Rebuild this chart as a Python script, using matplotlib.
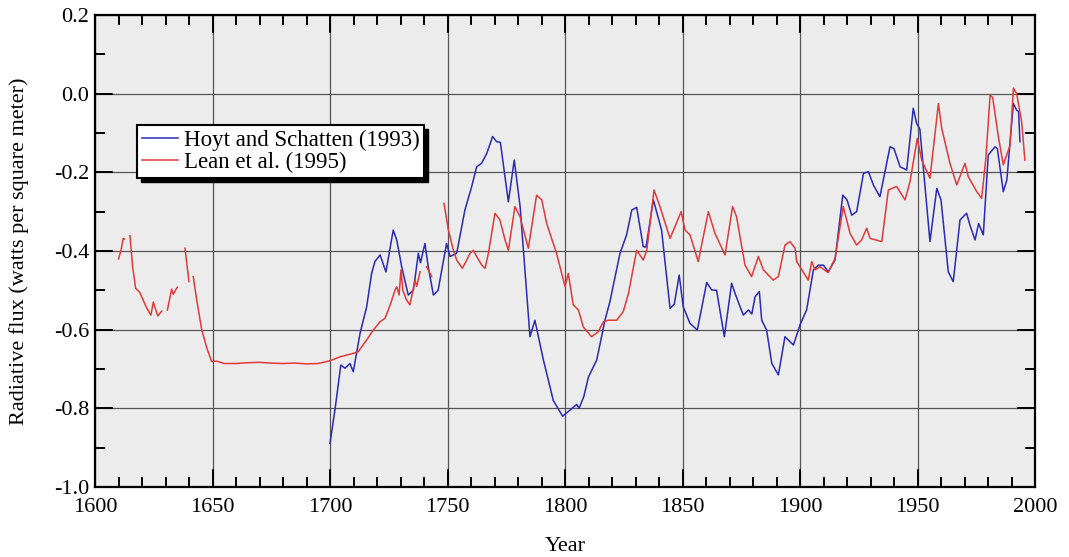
import numpy as np
import matplotlib
matplotlib.use("Agg")
import matplotlib.pyplot as plt
from matplotlib.ticker import MultipleLocator
from matplotlib.patches import Rectangle

nan = np.nan

lean_years = [1610, 1611, 1612, 1612.5, 1613.5, 1614.9, 1616, 1617.3, 1619, 1620.5, 1622, 1623.8,
              1624.8, 1626.7, 1628.4, 1629.5, 1630.8, 1631.5, 1632.6, 1633.3, 1635, 1636.5,
              1638.3, 1640, 1641, 1641.8, 1643.3, 1645.4, 1647.5, 1649.6, 1651.8, 1655, 1660,
              1665, 1670, 1675, 1680, 1685, 1690, 1695, 1700, 1704.3, 1710, 1712, 1715.6,
              1718.4, 1721.3, 1723.4, 1724.8, 1726, 1727.7, 1728.4, 1729.4, 1730.2, 1731,
              1732.6, 1734, 1736.2, 1736.9, 1738.3, 1739.5, 1741.1, 1743.3, 1746,
              1748.5, 1750.4, 1752.5, 1753.9, 1756.3, 1758.2, 1759.6, 1761, 1762.4, 1764.6,
              1766, 1767.4, 1770.2, 1772.3, 1774.5, 1775.9, 1778.7, 1780.9, 1781.6, 1784.4,
              1787.9, 1790.1, 1792.2, 1796.4, 1800, 1801.4, 1803.5, 1805.7, 1807.8, 1811.3,
              1814.2, 1816.3, 1818.4, 1822, 1824.8, 1827, 1830.5, 1833.3, 1834.8, 1837.9,
              1840.4, 1844.7, 1846.8, 1849.4, 1851.1, 1853.2, 1856.7, 1861, 1863.8, 1868.1,
              1871.3, 1873, 1876.6, 1879.4, 1882.3, 1884.4, 1888.6, 1890.8, 1893.6, 1895.7,
              1897.9, 1898.6, 1903.5, 1905, 1906.4, 1908.5, 1912, 1914.9, 1918.4, 1921.3,
              1924.1, 1926.2, 1928.4, 1929.8, 1934.8, 1937.6, 1941.1, 1944.7, 1946.8, 1949.9,
              1951.8, 1955.3, 1958.9, 1960.3, 1963.8, 1966.7, 1970.2, 1971.6, 1975.2, 1977.3,
              1979.1, 1980.9, 1982, 1984.4, 1986.5, 1989.4, 1990.8, 1992.2, 1994.3, 1995.7]
lean_flux = [-0.42, -0.40, -0.368, -0.37, nan, -0.361, -0.44, -0.495, -0.505, -0.525, -0.545, -0.563,
             -0.530, -0.565, -0.553, nan, -0.55, -0.53, -0.497, -0.51, -0.492, nan,
             -0.393, -0.478, nan, -0.465, -0.525, -0.60, -0.645, -0.681, -0.680, -0.686, -0.686,
             -0.684, -0.683, -0.685, -0.686, -0.685, -0.687, -0.686, -0.679, -0.669, -0.660, -0.656, -0.626,
             -0.601, -0.58, -0.571, -0.55, -0.53, -0.499, -0.491, -0.512, -0.448, -0.50,
             -0.525, -0.537, -0.474, -0.49, -0.453, nan, -0.44, -0.465, nan,
             -0.279, -0.347, -0.398, -0.423, -0.444, -0.423, -0.406, -0.398, -0.414, -0.436,
             -0.444, -0.406, -0.304, -0.321, -0.372, -0.398, -0.287, -0.313, -0.33, -0.393,
             -0.258, -0.27, -0.33, -0.406, -0.49, -0.457, -0.537, -0.55, -0.593, -0.618,
             -0.605, -0.58, -0.576, -0.576, -0.554, -0.508, -0.398, -0.423, -0.398, -0.245,
             -0.287, -0.368, -0.338, -0.30, -0.347, -0.359, -0.427, -0.30, -0.355, -0.410,
             -0.287, -0.313, -0.436, -0.465, -0.414, -0.448, -0.474, -0.465, -0.385, -0.376,
             -0.393, -0.427, -0.474, -0.427, -0.448, -0.44, -0.455, -0.419, -0.287, -0.355,
             -0.385, -0.372, -0.342, -0.368, -0.376, -0.245, -0.236, -0.27, -0.224, -0.114,
             -0.169, -0.215, -0.025, -0.088, -0.177, -0.232, -0.177, -0.211, -0.249, -0.266,
             -0.164, -0.003, -0.01, -0.109, -0.181, -0.131, 0.014, 0.0, -0.071, -0.169]

hoyt_years = [1700, 1702.1, 1704.6, 1706.4, 1708.5, 1709.9, 1712.8, 1715.6, 1717.7, 1719.1, 1721.3,
              1723.8, 1726.9, 1728.4, 1730.5, 1733.3, 1735.5, 1737.6, 1738.5, 1740.4, 1741.8, 1744,
              1746, 1749.6, 1751.1, 1753.9, 1757.4, 1760.3, 1762.4, 1764.5, 1766.7, 1769.2,
              1770.9, 1772.5, 1775.9, 1778.4, 1780.9, 1785.1, 1787.2, 1790.8, 1793.6, 1795,
              1797, 1799, 1801, 1803, 1805, 1806, 1808, 1810, 1813.5, 1817, 1819.1, 1823.4,
              1826.2, 1828.4, 1830.5, 1833.3, 1834.5, 1837.6, 1841.1, 1844.7, 1846.5, 1848.6,
              1850.3, 1853.2, 1856.3, 1860.3, 1862.4, 1864.5, 1867.8, 1870.9, 1872.5, 1874.5,
              1875.9, 1878, 1879.5, 1880.9, 1882.7, 1883.7, 1885.8, 1888, 1890.8, 1893.6,
              1897.2, 1900, 1902.8, 1905.7, 1907.8, 1910, 1912, 1914.9, 1918.2, 1920, 1922,
              1924.1, 1927, 1929.1, 1931.2, 1934, 1938.3, 1940, 1942.6, 1945.4, 1948.2, 1949.6,
              1951, 1955.3, 1958.2, 1960, 1963.1, 1965.2, 1968.1, 1970.9, 1972.3, 1974.5,
              1976, 1978, 1980.1, 1983, 1984, 1986.5, 1988, 1990.8, 1992.2, 1993, 1993.6]
hoyt_flux = [-0.889, -0.804, -0.69, -0.698, -0.686, -0.707, -0.609, -0.542, -0.457, -0.427, -0.410,
             -0.453, -0.347, -0.372, -0.44, -0.512, -0.499, -0.406, -0.43, -0.381, -0.44, -0.512,
             -0.50, -0.381, -0.414, -0.406, -0.296, -0.236, -0.186, -0.177, -0.152, -0.109,
             -0.122, -0.124, -0.275, -0.169, -0.287, -0.618, -0.576, -0.677, -0.745, -0.78,
             -0.80, -0.82, -0.81, -0.80, -0.79, -0.80, -0.77, -0.72, -0.677, -0.576, -0.529, -0.406,
             -0.359, -0.296, -0.289, -0.389, -0.39, -0.27, -0.347, -0.546, -0.535, -0.461,
             -0.542, -0.584, -0.601, -0.48, -0.499, -0.50, -0.618, -0.482, -0.51, -0.542,
             -0.563, -0.55, -0.56, -0.516, -0.503, -0.576, -0.601, -0.686, -0.715, -0.618,
             -0.639, -0.588, -0.55, -0.448, -0.436, -0.436, -0.453, -0.423, -0.258, -0.27, -0.309,
             -0.30, -0.203, -0.198, -0.232, -0.262, -0.135, -0.14, -0.186, -0.194, -0.037, -0.075,
             -0.09, -0.376, -0.241, -0.27, -0.453, -0.478, -0.321, -0.304, -0.334, -0.372,
             -0.33, -0.359, -0.156, -0.135, -0.14, -0.249, -0.22, -0.025, -0.042, -0.045, -0.122]

x_ticks = [1600, 1650, 1700, 1750, 1800, 1850, 1900, 1950, 2000]
y_ticks = [-1.0, -0.8, -0.6, -0.4, -0.2, 0.0, 0.2]

serif = ["Liberation Serif", "DejaVu Serif"]
plt.rcParams["font.family"] = serif

fig = plt.figure(figsize=(10.69, 5.57), dpi=100)
ax = fig.add_axes([95 / 1069, 1 - 487 / 557, (1035 - 95) / 1069, (487 - 15) / 557])
ax.set_facecolor("#ececec")

ax.plot(hoyt_years, hoyt_flux, color="#2a2ab4", lw=1.1, label="Hoyt and Schatten (1993)", zorder=3)
ax.plot(lean_years, lean_flux, color="#e03a3a", lw=1.1, label="Lean et al. (1995)", zorder=3)

ax.set_xlim(1600, 2000)
ax.set_ylim(-1.0, 0.2)
ax.set_xticks(x_ticks)
ax.set_yticks(y_ticks)
ax.set_yticklabels([f"{v:.1f}" for v in y_ticks])
ax.xaxis.set_minor_locator(MultipleLocator(10))
ax.yaxis.set_minor_locator(MultipleLocator(0.1))
ax.tick_params(which="both", direction="in", top=True, right=True, labelsize=16, width=1.4)
ax.tick_params(which="major", length=13)
ax.tick_params(which="minor", length=7)
ax.tick_params(axis="x", pad=8)
ax.tick_params(axis="y", pad=4)
ax.grid(True, which="major", color="#555555", lw=0.9, zorder=1)
for s in ax.spines.values():
    s.set_linewidth(1.6)

ax.set_xlabel("Year", fontsize=16, labelpad=14)
ax.set_ylabel("Radiative flux (watts per square meter)", fontsize=16, labelpad=18)

leg = ax.legend(loc="upper left", bbox_to_anchor=((137 - 95) / 940, 1 - (125 - 15) / 472),
                frameon=True, fancybox=False, fontsize=16.5, handlelength=1.6,
                borderpad=0.2, labelspacing=0.05, handletextpad=0.25, borderaxespad=0)
leg.get_frame().set_edgecolor("black")
leg.get_frame().set_linewidth(1.5)
leg.get_frame().set_facecolor("white")
leg.get_frame().set_alpha(1)
leg.set_zorder(6)

# drop shadow behind the legend box
fig.canvas.draw()
bb = leg.get_window_extent().transformed(fig.transFigure.inverted())
dx, dy = 4 / 1069, 4 / 557
shadow = Rectangle((bb.x0 + dx, bb.y0 - dy), bb.width, bb.height,
                   transform=fig.transFigure, facecolor="black", edgecolor="black",
                   zorder=5, clip_on=False)
ax.add_patch(shadow)

fig.savefig("out.png", dpi=100, facecolor="white")
